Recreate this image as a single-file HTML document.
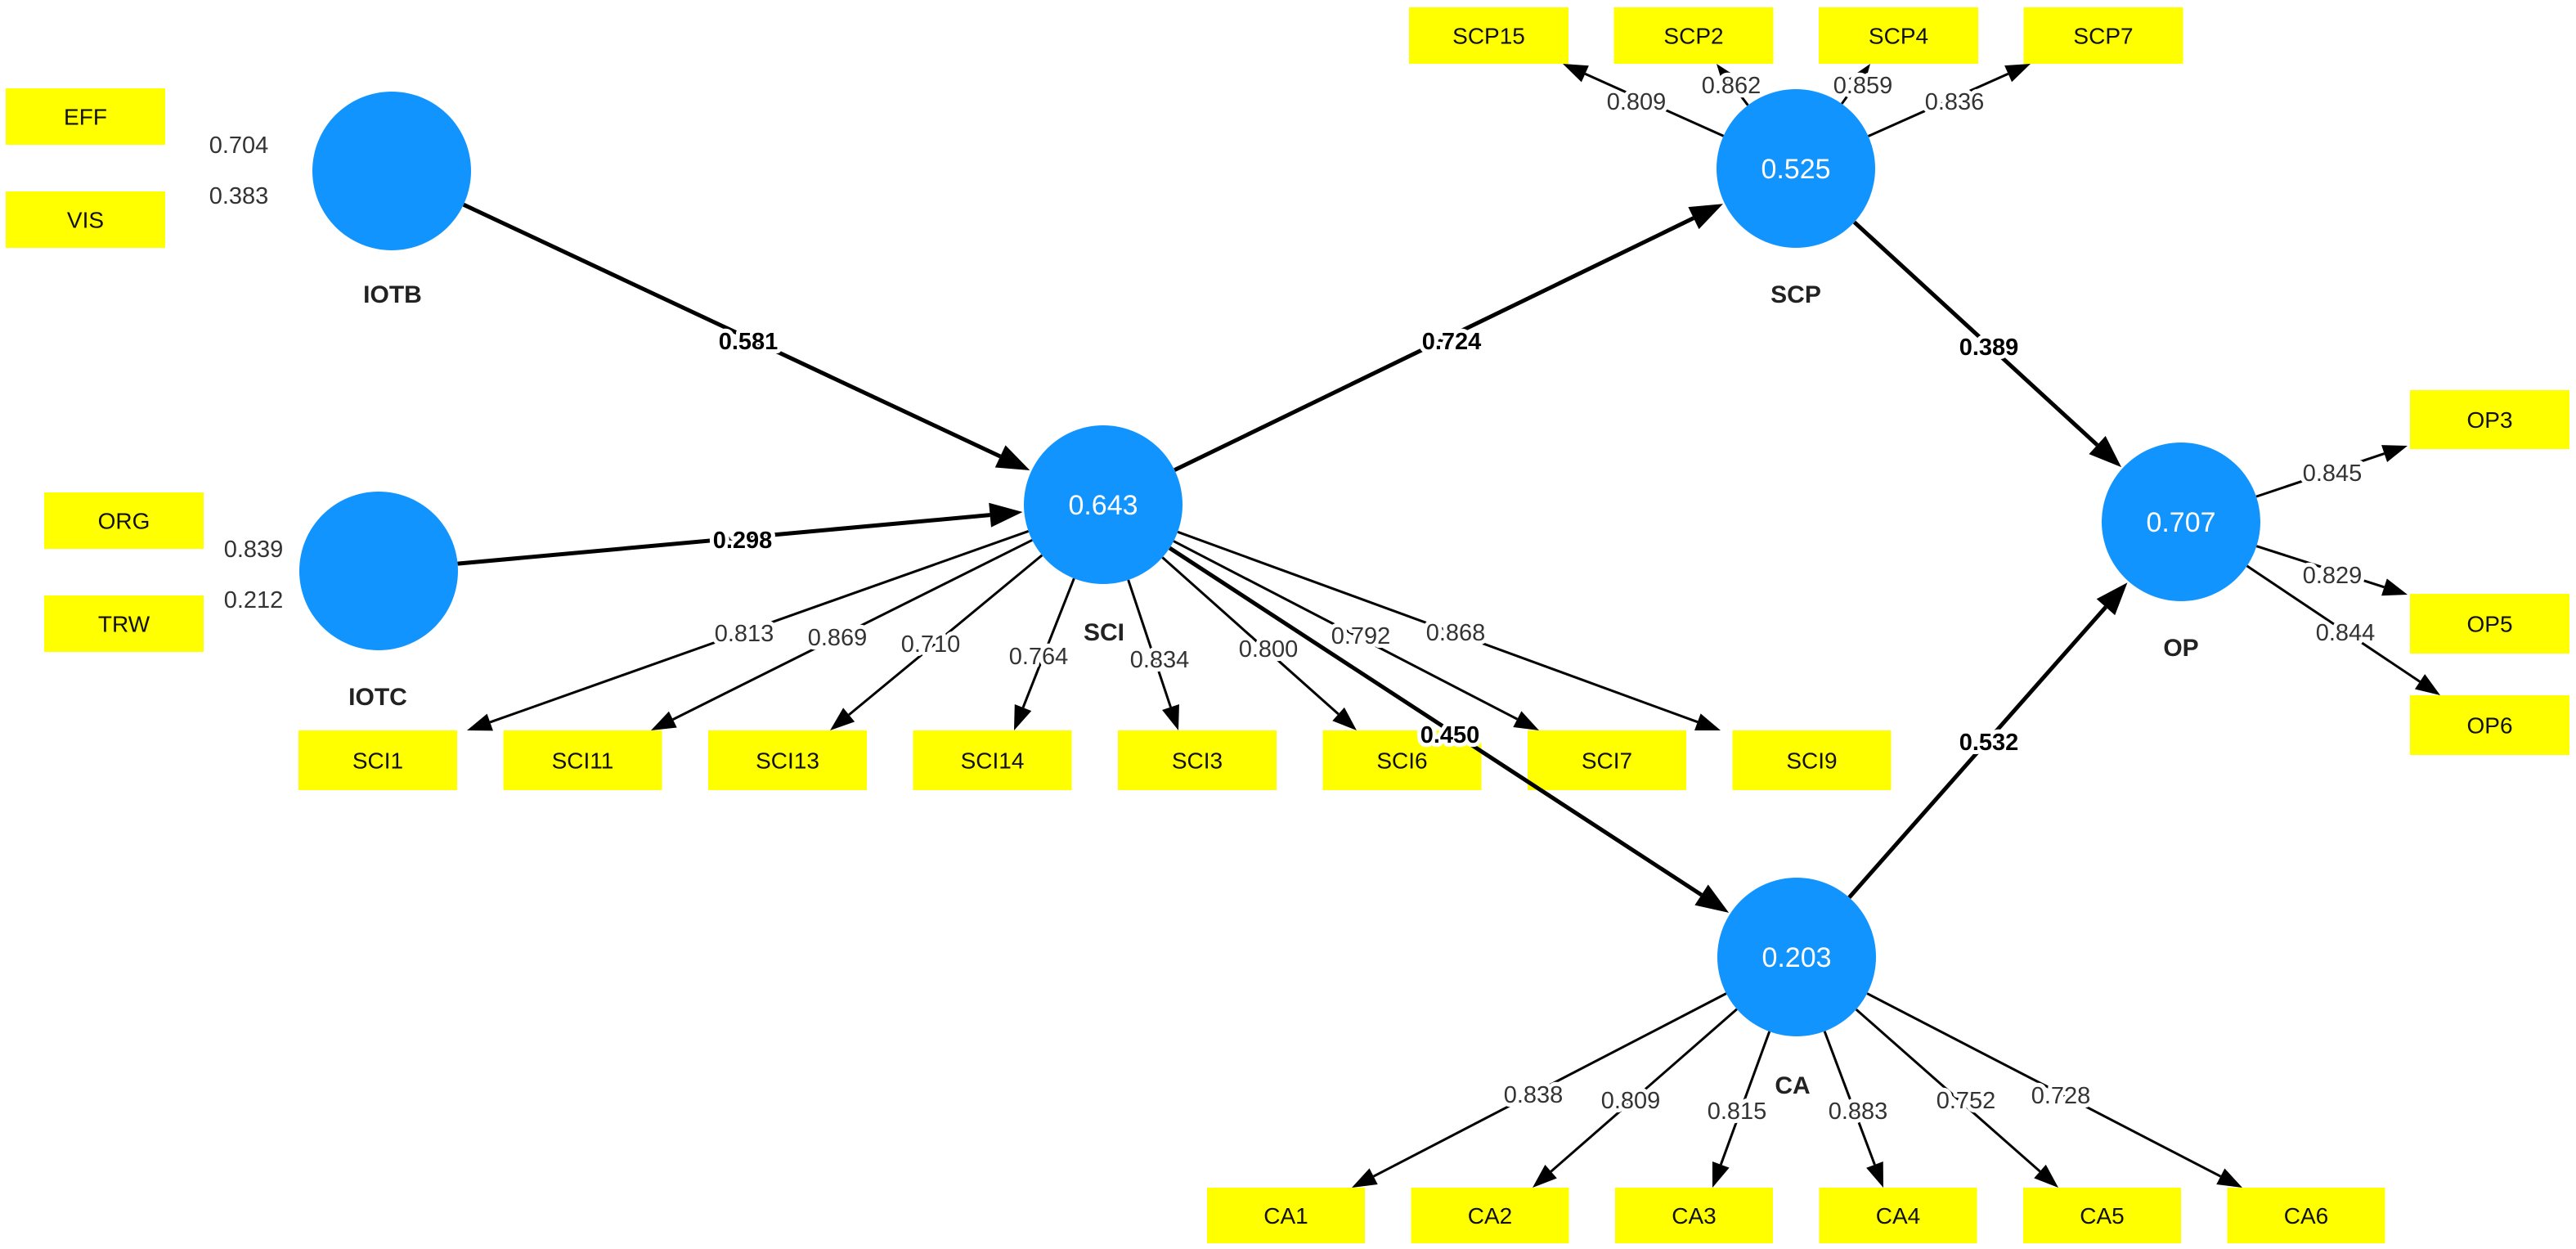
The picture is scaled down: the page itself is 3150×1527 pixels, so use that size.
<!DOCTYPE html>
<html><head><meta charset="utf-8">
<style>
html,body{margin:0;padding:0;background:#fff;}
svg{display:block;}
text{font-family:"Liberation Sans",Arial,sans-serif;}
</style></head>
<body>
<svg id="s" width="3150" height="1527" viewBox="0 0 3150 1527" xmlns="http://www.w3.org/2000/svg"></svg>
<script>
var S=document.getElementById('s'),NS='http://www.w3.org/2000/svg';
function el(t,a,txt){var e=document.createElementNS(NS,t);for(var k in a)e.setAttribute(k,a[k]);if(txt!==undefined)e.textContent=txt;S.appendChild(e);return e;}
var R=97;
var C={IOTB:[479,209],IOTC:[463,698],SCI:[1349,617],SCP:[2196,206],OP:[2667,638],CA:[2197,1170]};
var layerLines=[],layerLabels=[];
function arrow(x1,y1,x2,y2,w,hl,hw){
  var dx=x2-x1,dy=y2-y1,L=Math.hypot(dx,dy),ux=dx/L,uy=dy/L;
  var bx=x2-ux*hl,by=y2-uy*hl;
  el('line',{x1:x1,y1:y1,x2:bx,y2:by,stroke:'#000','stroke-width':w});
  el('polygon',{points:x2+','+y2+' '+(bx-uy*hw/2)+','+(by+ux*hw/2)+' '+(bx+uy*hw/2)+','+(by-ux*hw/2),fill:'#000'});
}
function edge(a,b,w,hl,hw){ // a,b circle names
  var p=C[a],q=C[b],dx=q[0]-p[0],dy=q[1]-p[1],L=Math.hypot(dx,dy),ux=dx/L,uy=dy/L;
  arrow(p[0]+ux*R,p[1]+uy*R,q[0]-ux*(R+2),q[1]-uy*(R+2),w,hl,hw);
}
function load(a,tx,ty){
  var p=C[a],dx=tx-p[0],dy=ty-p[1],L=Math.hypot(dx,dy),ux=dx/L,uy=dy/L;
  arrow(p[0]+ux*R,p[1]+uy*R,tx,ty,3,30,22);
}
function lab(x,y,t,bold){
  el('text',{x:x,y:y+10,'font-size':29,'font-weight':bold?'bold':'normal','text-anchor':'middle',fill:bold?'#000':'#333',stroke:'#fff','stroke-width':10,'paint-order':'stroke','stroke-linejoin':'round'},t);
}
function box(x,y,w,h,t){
  el('rect',{x:x,y:y,width:w,height:h,fill:'#ffff00'});
  el('text',{x:x+w/2,y:y+h/2+10,'font-size':28,'text-anchor':'middle',fill:'#111'},t);
}
// boxes
box(7,108,195,69,'EFF');box(7,234,195,69,'VIS');
box(54,602,195,69,'ORG');box(54,728,195,69,'TRW');
var sci=['SCI1','SCI11','SCI13','SCI14','SCI3','SCI6','SCI7','SCI9'];
for(var i=0;i<8;i++)box(365+i*250.5,893,194,73,sci[i]);
var scp=['SCP15','SCP2','SCP4','SCP7'];
for(i=0;i<4;i++)box(1723+i*250.5,9,195,69,scp[i]);
box(2947,477,195,72,'OP3');box(2947,726,195,73,'OP5');box(2947,850,195,73,'OP6');
var ca=['CA1','CA2','CA3','CA4','CA5','CA6'];
for(i=0;i<6;i++)box(1476+i*249.5,1452,193,68,ca[i]);
// structural edges
edge('IOTB','SCI',5,40,30);edge('IOTC','SCI',5,40,30);
edge('SCI','SCP',5,40,30);edge('SCI','CA',5,40,30);
edge('SCP','OP',5,40,30);edge('CA','OP',5,40,30);
// loadings
var st=[571,796,1015,1240,1441,1659,1882,2104];
for(i=0;i<8;i++)load('SCI',st[i],893);
load('SCP',1911,78);load('SCP',2099,78);load('SCP',2287,78);load('SCP',2483,78);
load('OP',2944,545);load('OP',2944,727);load('OP',2984,850);
var ct=[1653,1874,2094,2303,2517,2742];
for(i=0;i<6;i++)load('CA',ct[i],1452);
// circles
for(var k in C){el('circle',{cx:C[k][0],cy:C[k][1],r:R,fill:'#1294ff'});}
var vals={SCI:'0.643',SCP:'0.525',OP:'0.707',CA:'0.203'};
for(k in vals)el('text',{x:C[k][0],y:C[k][1]+12,'font-size':34,'text-anchor':'middle',fill:'#fff'},vals[k]);
// names
function nm(x,y,t){el('text',{x:x,y:y+11,'font-size':30,'font-weight':'bold','text-anchor':'middle',fill:'#222'},t);}
nm(480,359,'IOTB');nm(462,851,'IOTC');nm(1350,772,'SCI');nm(2196,359,'SCP');nm(2667,791,'OP');nm(2192,1326,'CA');
// outer weights
el('text',{x:292,y:187,'font-size':29,'text-anchor':'middle',fill:'#333'},'0.704');
el('text',{x:292,y:249,'font-size':29,'text-anchor':'middle',fill:'#333'},'0.383');
el('text',{x:310,y:681,'font-size':29,'text-anchor':'middle',fill:'#333'},'0.839');
el('text',{x:310,y:743,'font-size':29,'text-anchor':'middle',fill:'#333'},'0.212');
// path labels
lab(915,417,'0.581',1);lab(908,660,'0.298',1);lab(1775,417,'0.724',1);
lab(2432,424,'0.389',1);lab(2432,907,'0.532',1);lab(1773,898,'0.450',1);
// loading labels
lab(910,774,'0.813');lab(1024,779,'0.869');lab(1138,787,'0.710');lab(1270,802,'0.764');
lab(1418,806,'0.834');lab(1551,793,'0.800');lab(1664,777,'0.792');lab(1780,773,'0.868');
lab(2001,124,'0.809');lab(2117,104,'0.862');lab(2278,104,'0.859');lab(2390,124,'0.836');
lab(2852,578,'0.845');lab(2852,703,'0.829');lab(2868,773,'0.844');
lab(1875,1338,'0.838');lab(1994,1345,'0.809');lab(2124,1358,'0.815');lab(2272,1358,'0.883');
lab(2404,1345,'0.752');lab(2520,1339,'0.728');
</script>
</body></html>
